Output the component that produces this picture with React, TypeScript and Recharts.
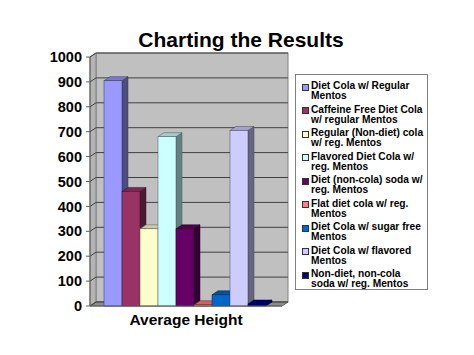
import React from 'react';
import { BarChart, Bar, XAxis, YAxis, CartesianGrid, Legend, ReferenceArea } from 'recharts';

const categories = ['Average Height'];
const seriesNames = [
  'Diet Cola w/ Regular Mentos',
  'Caffeine Free Diet Cola w/ regular Mentos',
  'Regular (Non-diet) cola w/ reg. Mentos',
  'Flavored Diet Cola w/ reg. Mentos',
  'Diet (non-cola) soda w/ reg. Mentos',
  'Flat diet cola w/ reg. Mentos',
  'Diet Cola w/ sugar free Mentos',
  'Diet Cola w/ flavored Mentos',
  'Non-diet, non-cola soda w/ reg. Mentos',
];
const seriesValues = [905, 460, 310, 680, 310, 5, 45, 705, 8];
const seriesColors = ['#9999FF', '#993366', '#FFFFCC', '#CCFFFF', '#660066', '#FF8080', '#0066CC', '#CCCCFF', '#000080'];
const yTicks = [0, 100, 200, 300, 400, 500, 600, 700, 800, 900, 1000];

const data = categories.map((c) => {
  const row: any = { category: c };
  seriesValues.forEach((v, i) => { row['s' + i] = v; });
  return row;
});

const DX = 6;
const DY = 4;
const FONT = '"Liberation Sans", Arial, sans-serif';

function shade(hex: string, f: number) {
  const n = parseInt(hex.slice(1), 16);
  const r = Math.round(((n >> 16) & 255) * f);
  const g = Math.round(((n >> 8) & 255) * f);
  const b = Math.round((n & 255) * f);
  return `rgb(${r},${g},${b})`;
}

const Bar3D = (props: any) => {
  const { x, y, width, height, fill } = props;
  if (x == null || y == null) return null;
  const w = width, h = height;
  const edge = shade(fill, 0.35);
  return (
    <g>
      <polygon points={`${x + w},${y} ${x + w + DX},${y - DY} ${x + w + DX},${y + h - DY} ${x + w},${y + h}`} fill={shade(fill, 0.5)} stroke={edge} strokeWidth={0.5} />
      <polygon points={`${x},${y} ${x + DX},${y - DY} ${x + w + DX},${y - DY} ${x + w},${y}`} fill={shade(fill, 0.8)} stroke={edge} strokeWidth={0.5} />
      <rect x={x} y={y} width={w} height={h} fill={fill} stroke={edge} strokeWidth={0.5} />
    </g>
  );
};

const Walls = (props: any) => {
  const { x, y, width, height } = props;
  if (x == null) return null;
  const b = y + height;
  return (
    <g>
      <rect x={x + DX} y={y - DY} width={width} height={height} fill="#C0C0C0" stroke="#808080" strokeWidth={1} />
      <polygon points={`${x},${y} ${x + DX},${y - DY} ${x + DX},${b - DY} ${x},${b}`} fill="#B4B4B4" stroke="#808080" strokeWidth={1} />
      <polygon points={`${x},${b} ${x + DX},${b - DY} ${x + width + DX},${b - DY} ${x + width},${b}`} fill="#8C8C8C" stroke="#606060" strokeWidth={1} />
    </g>
  );
};

const GridLine = (props: any) => {
  const { x1, y1, x2, key } = props;
  return (
    <polyline key={key ?? y1} points={`${x1},${y1} ${x1 + DX},${y1 - DY} ${x2 + DX},${y1 - DY}`} fill="none" stroke="#404040" strokeWidth={1} />
  );
};

const LegendBox = () => (
  <div style={{ width: 133, height: 216, boxSizing: 'border-box', border: '1px solid #808080', background: '#fff', padding: '6px 0 0 6px', fontFamily: FONT, fontWeight: 'bold', fontSize: 10.2, color: '#000' }}>
    {seriesNames.map((name, i) => (
      <div key={name} style={{ display: 'flex', alignItems: 'flex-start', height: 23.55, lineHeight: '10px' }}>
        <div style={{ width: 5, height: 5, marginTop: 2.5, marginRight: 2, flex: '0 0 auto', background: seriesColors[i], border: '0.5px solid #333' }} />
        <div style={{ whiteSpace: 'normal' }}>{name}</div>
      </div>
    ))}
  </div>
);

export default function App() {
  return (
    <div style={{ position: 'absolute', left: 0, top: 0, width: 474, height: 355, background: '#fff' }}>
      <div style={{ position: 'absolute', left: 4, top: 28, width: 474, textAlign: 'center', fontFamily: FONT, fontWeight: 'bold', fontSize: 21, lineHeight: '24px', color: '#000' }}>
        Charting the Results
      </div>
      <BarChart width={474} height={355} data={data} margin={{ top: 57, right: 192, bottom: 19, left: 0 }} barCategoryGap={14} barGap={0}>
        <ReferenceArea y1={0} y2={1000} shape={<Walls />} zIndex={-200} ifOverflow="visible" />
        <CartesianGrid vertical={false} horizontal={GridLine as any} />
        <XAxis dataKey="category" height={30} tickLine={false} axisLine={{ stroke: '#606060' }} tick={{ fill: '#000', fontSize: 15.5, fontWeight: 'bold', fontFamily: FONT }} />
        <YAxis width={90} domain={[0, 1000]} ticks={yTicks} interval={0} tickSize={4} tickMargin={4} axisLine={{ stroke: '#606060' }} tickLine={{ stroke: '#606060' }} tick={{ fill: '#000', fontSize: 14.5, fontWeight: 'bold', fontFamily: FONT }} />
        <Legend layout="vertical" align="center" verticalAlign="middle" wrapperStyle={{ left: 295, top: 74, width: 133 }} content={<LegendBox />} />
        {seriesNames.map((name, i) => (
          <Bar key={name} dataKey={'s' + i} name={name} fill={seriesColors[i]} shape={<Bar3D />} isAnimationActive={false} />
        ))}
      </BarChart>
    </div>
  );
}
